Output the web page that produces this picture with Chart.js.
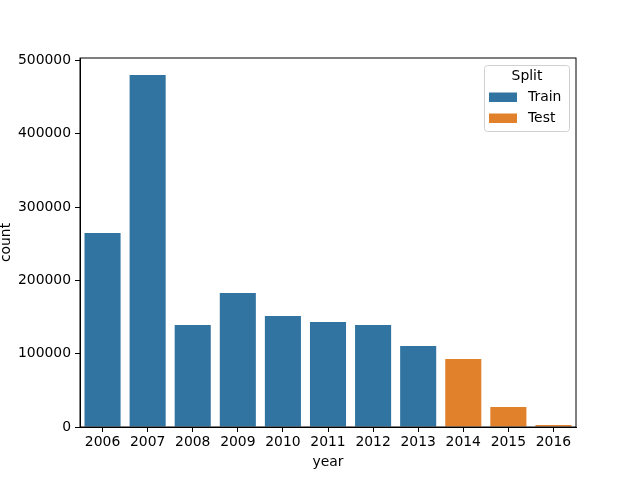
<!DOCTYPE html>
<html>
<head>
<meta charset="utf-8">
<script src="https://cdn.jsdelivr.net/npm/chart.js@4/dist/chart.umd.min.js"></script>
<style>
  html, body { margin: 0; padding: 0; background: #fff; }
  #wrap { width: 640px; height: 480px; }
</style>
</head>
<body>
<div id="wrap"><canvas id="c" width="640" height="480"></canvas></div>
<script>
// values
const years = ["2006", "2007", "2008", "2009", "2010", "2011", "2012", "2013", "2014", "2015", "2016"];
const trainCounts = [264500, 480000, 139000, 182700, 151400, 143200, 139000, 110500, null, null, null];
const testCounts = [null, null, null, null, null, null, null, null, 92700, 27300, 2700];
const yTicks = [0, 100000, 200000, 300000, 400000, 500000];

const BLUE = "#3274a1";
const ORANGE = "#e1812c";
const FONT = "'DejaVu Sans', sans-serif";

// frame on all four sides plus a matplotlib-like boxed legend with a title
const framePlugin = {
    id: "frame",
    afterDraw(chart) {
        const ctx = chart.ctx;
        const a = chart.chartArea;
        ctx.save();
        ctx.strokeStyle = "#000";
        ctx.lineWidth = 1;
        ctx.strokeRect(a.left, a.top, a.right - a.left, a.bottom - a.top);

        // legend
        const bx = 484.5, by = 65.5, bw = 85, bh = 66;
        ctx.fillStyle = "rgba(255,255,255,0.8)";
        ctx.strokeStyle = "#d0d0d0";
        ctx.beginPath();
        if (ctx.roundRect) ctx.roundRect(bx, by, bw, bh, 3); else ctx.rect(bx, by, bw, bh);
        ctx.fill();
        ctx.stroke();
        ctx.fillStyle = "#000";
        ctx.font = "13.9px " + FONT;
        ctx.textBaseline = "middle";
        ctx.textAlign = "center";
        ctx.fillText("Split", 527, 76);
        ctx.textAlign = "left";
        chart.data.datasets.forEach(function(ds, i) {
            const y = 92.5 + i * 21;
            ctx.fillStyle = ds.backgroundColor;
            ctx.fillRect(489, y, 28, 9.5);
            ctx.fillStyle = "#000";
            ctx.fillText(ds.label, 528, y + 5);
        });
        ctx.restore();
    }
};

new Chart(document.getElementById("c"), {
    type: "bar",
    data: {
        labels: years,
        datasets: [
            {label: "Train", data: trainCounts, backgroundColor: BLUE},
            {label: "Test", data: testCounts, backgroundColor: ORANGE}
        ]
    },
    options: {
        responsive: false,
        animation: false,
        devicePixelRatio: 1,
        layout: {padding: {top: 58, right: 64, left: 0, bottom: 0}},
        datasets: {bar: {barPercentage: 0.8, categoryPercentage: 1.0}},
        plugins: {legend: {display: false}, tooltip: {enabled: false}},
        scales: {
            x: {
                stacked: true,
                offset: true,
                grid: {display: true, drawOnChartArea: false, tickLength: 5, tickColor: "#000", offset: false},
                border: {display: true, color: "#000"},
                ticks: {color: "#000", font: {family: FONT, size: 13.9}, padding: 2, maxRotation: 0, autoSkip: false},
                title: {display: true, text: "year", color: "#000", font: {family: FONT, size: 13.9}, padding: {top: 2, bottom: 9}},
                afterFit(scale) { scale.height = 53; }
            },
            y: {
                stacked: true,
                min: 0,
                max: 503200,
                afterBuildTicks(scale) { scale.ticks = yTicks.map(v => ({value: v})); },
                grid: {display: true, drawOnChartArea: false, tickLength: 5, tickColor: "#000"},
                border: {display: true, color: "#000"},
                ticks: {color: "#000", font: {family: FONT, size: 13.9}, padding: 4, callback: v => String(v)},
                title: {display: true, text: "count", color: "#000", font: {family: FONT, size: 13.9}, padding: {top: -2, bottom: 4}},
                afterFit(scale) { scale.width = 80; }
            }
        }
    },
    plugins: [framePlugin]
});
</script>
</body>
</html>
